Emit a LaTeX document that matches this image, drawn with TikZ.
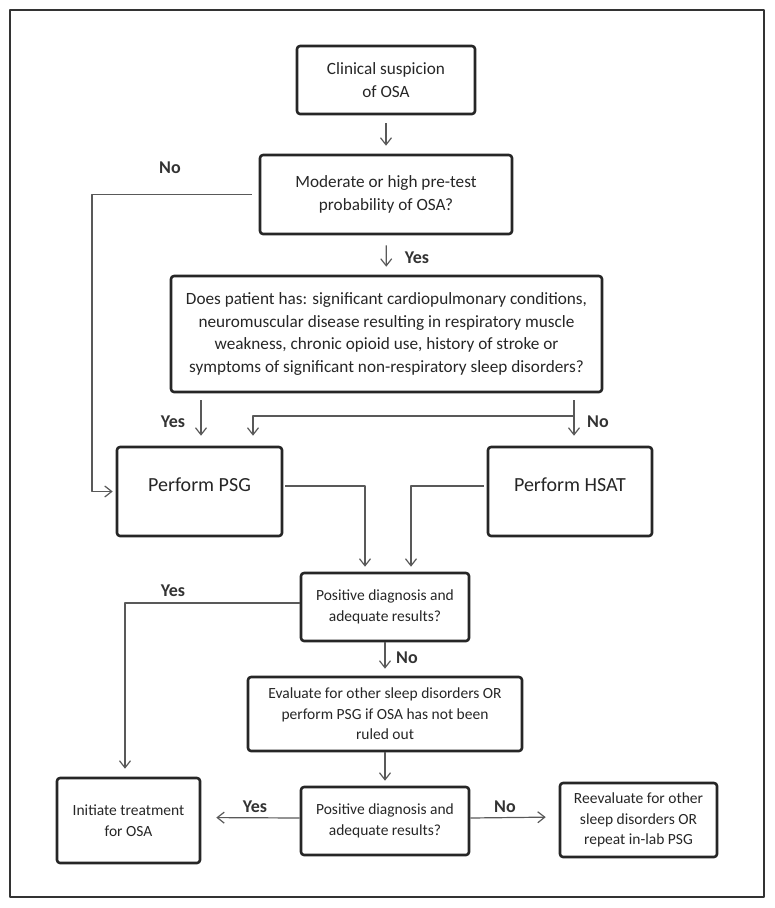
\documentclass[tikz,border=0pt]{standalone}
\usepackage{fontspec}
\setmainfont{Carlito}
\usetikzlibrary{arrows.meta,positioning}

\begin{document}
\begin{tikzpicture}[x=1pt, y=-1pt, line join=round,
  box/.style={rectangle, draw=black!85, line width=2.6pt, rounded corners=3pt, align=center, text=black!85, inner sep=2pt},
  big/.style={box, font=\fontsize{17.2}{22.5}\selectfont},
  small/.style={box, font=\fontsize{15.5}{20.5}\selectfont},
  huge/.style={box, font=\fontsize{20}{24}\selectfont},
  arr/.style={draw=black!65, line width=1.2pt, -{Straight Barb[length=7pt,width=11pt]}},
  lab/.style={font=\bfseries\fontsize{18}{20}\selectfont, text=black!80}]
  \useasboundingbox (0,0) rectangle (775,908);
  \draw[black!80, line width=1.3pt] (10,10) rectangle (764,897);
  % boxes
  \node[big, minimum width=178pt, minimum height=68pt] (clin) at (386,80) {Clinical suspicion\\of OSA};
  \node[big, minimum width=252pt, minimum height=79pt] (mod) at (386,194.5) {Moderate or high pre-test\\probability of OSA?};
  \node[big, minimum width=431pt, minimum height=116pt] (does) at (386.5,334) {Does patient has: significant cardiopulmonary conditions,\\neuromuscular disease resulting in respiratory muscle\\weakness, chronic opioid use, history of stroke or\\symptoms of significant non-respiratory sleep disorders?};
  \node[huge, minimum width=165pt, minimum height=89pt, text depth=14pt] (psg) at (199.5,491.5) {Perform PSG};
  \node[huge, minimum width=164pt, minimum height=89pt, text depth=14pt] (hsat) at (570,491.5) {Perform HSAT};
  \node[small, minimum width=168pt, minimum height=68pt] (pos1) at (385,607) {Positive diagnosis and\\adequate results?};
  \node[small, minimum width=274pt, minimum height=74pt] (eval) at (385,714) {Evaluate for other sleep disorders OR\\perform PSG if OSA has not been\\ruled out};
  \node[small, minimum width=168pt, minimum height=68pt] (pos2) at (385,821) {Positive diagnosis and\\adequate results?};
  \node[small, minimum width=143pt, minimum height=85pt] (init) at (128.5,820.5) {Initiate treatment\\for OSA};
  \node[small, minimum width=157pt, minimum height=74pt] (reev) at (638.5,820) {Reevaluate for other\\sleep disorders OR\\repeat in-lab PSG};
  \coordinate (split) at (574,416);
  % connectors
  \draw[arr, shorten <=8pt, shorten >=8pt] (clin) -- (mod);
  \draw[arr, shorten <=10pt, shorten >=8pt] (mod) -- (does);
  \draw[arr, shorten <=7pt, shorten >=3pt] (mod.west) -| (92,300) |- (psg.west);
  \draw[arr, shorten <=7pt, shorten >=10pt] (does.south -| split) -- (hsat.north -| split);
  \draw[arr, shorten <=7pt, shorten >=10pt] (does.south -| 201,0) -- (psg.north -| 201,0);
  \draw[arr, shorten >=10pt] (split) -| ([xshift=53.5pt]psg.north);
  \draw[arr, shorten <=2pt, shorten >=5pt] ([yshift=5.5pt]psg.east) -| ([xshift=-20pt]pos1.north);
  \draw[arr, shorten <=3pt, shorten >=5pt] ([yshift=5.5pt]hsat.west) -| ([xshift=26pt]pos1.north);
  \draw[arr, shorten >=8pt] ([yshift=4pt]pos1.west) -| (125,0 |- init.north);
  \draw[arr, shorten >=7pt] (pos1) -- (eval);
  \draw[arr, shorten <=0pt, shorten >=5pt] (eval) -- (pos2);
  \draw[arr, shorten >=15pt] ([yshift=3pt]pos2.west) -- ([yshift=3pt]init.east);
  \draw[arr, shorten >=13pt] ([yshift=3pt]pos2.east) -- ([yshift=3pt]reev.west);
  % labels
  \node[lab] (no1) at (170,168) {No};
  \node[lab] (yes1) at (417,258) {Yes};
  \node[lab] (yes2) at (173,422) {Yes};
  \node[lab] (no2) at (598,422) {No};
  \node[lab] (yes3) at (173,591) {Yes};
  \node[lab] (no3) at (407,658) {No};
  \node[lab] (yes4) at (255,807) {Yes};
  \node[lab] (no4) at (505,807) {No};
\end{tikzpicture}
\end{document}
